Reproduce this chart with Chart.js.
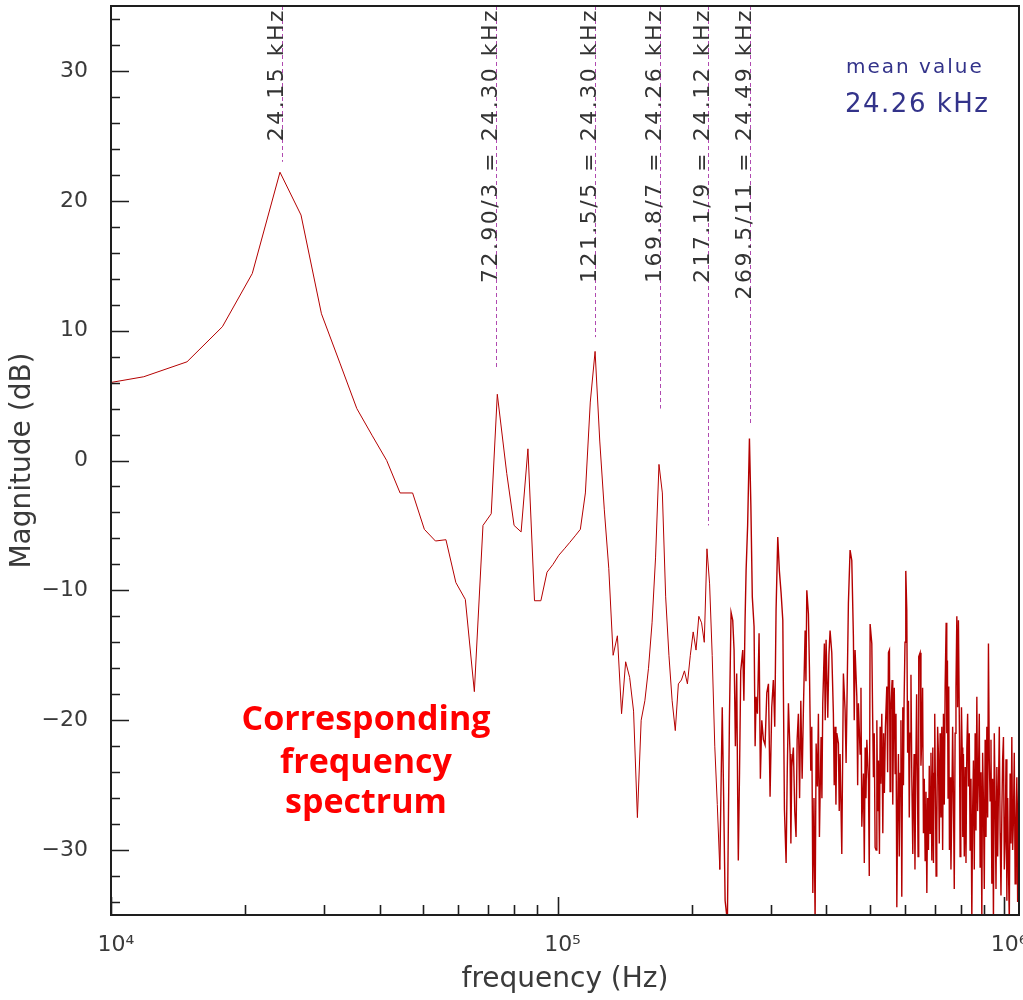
<!DOCTYPE html>
<html><head><meta charset="utf-8">
<script src="https://cdn.jsdelivr.net/npm/chart.js@4.4.1/dist/chart.umd.min.js"></script>
<style>html,body{margin:0;padding:0;background:#fff;} #wrap{width:1023px;height:1000px;position:relative;}</style>
</head><body><div id="wrap"><canvas id="c" width="1023" height="1000"></canvas></div>
<script>
// ---- data (frequency in kHz, magnitude in dB) ----
const freqKHz = [
 8.88, 11.84, 14.80, 17.76, 20.72, 23.90, 26.64, 29.60, 32.56, 35.52, 38.48, 41.44, 44.40, 47.36, 50.32,
 53.28, 56.24, 59.20, 62.16, 65.12, 68.08, 71.04, 73.30, 76.96, 79.92, 82.88, 85.84, 88.80, 91.76, 94.72,
 97.68, 100.64, 103.60, 106.56, 109.52, 112.48, 115.44, 118.40, 121.36, 124.32, 127.28, 130.24, 133.20, 136.16, 139.12,
 142.08, 145.04, 148.00, 150.96, 153.92, 156.88, 159.84, 162.80, 165.76, 168.72, 171.68, 174.64, 177.60, 180.56, 183.52,
 186.48, 189.44, 192.40, 195.36, 198.32, 201.28, 204.24, 207.20, 210.16, 213.12, 216.08, 219.04, 222.00, 224.96, 227.92,
 230.88, 233.8, 235.5, 237.3, 240.1, 242.6, 244.7, 246.8, 248.5, 250.2, 251.9, 253.2, 254.0, 255.6, 257.2,
 259.9, 261.4, 263.0, 264.4, 266.5, 269.0, 271.0, 273.0, 275.5, 277.0, 278.4, 280.3, 282.7, 284.6, 286.7,
 289.1, 291.6, 294.2, 296.7, 299.2, 301.8, 304.3, 306.5, 308.6, 311.3, 313.9, 316.7, 319.5, 322.2, 325.0,
 326.9, 328.9, 331.7, 333.1, 334.6, 337.4, 339.8, 342.1, 344.0, 346.2, 348.4, 350.6, 353.0, 355.3, 358.5,
 360.0, 361.6, 364.6, 366.5, 369.1, 371.0, 373.0, 375.2, 377.4, 379.4, 381.9, 383.9, 385.9, 389.2, 390.9,
 392.6, 395.9, 397.6, 399.4, 402.9, 405.3, 407.7, 411.3, 414.7, 416.5, 418.4, 420.2, 422.1, 425.6, 427.4,
 429.3, 433.1, 436.7, 440.5, 442.8, 445.5, 448.1, 452.0, 456.0, 459.8, 461.8, 463.8, 468.0, 470.0, 471.8,
 476.0, 478.1, 480.2, 484.2, 486.4, 488.5, 490.6, 492.8, 496.9, 499.0, 501.2, 505.6, 507.7, 509.8, 512.0,
 514.3, 516.9, 518.9, 521.0, 523.2, 525.9, 527.7, 529.6, 532.3, 535.1, 537.3, 539.5, 542.3, 546.2, 548.5,
 550.9, 553.7, 555.6, 557.6, 561.4, 563.3, 565.2, 567.7, 570.2, 572.7, 575.2, 577.6, 580.0, 582.5, 585.0,
 587.5, 590.1, 593.2, 595.2, 597.2, 600.0, 602.4, 605.5, 608.1, 610.7, 613.3, 616.0, 618.7, 621.4, 624.6,
 626.7, 628.8, 631.6, 634.4, 637.0, 639.7, 641.8, 644.0, 648.6, 651.4, 654.3, 657.0, 659.8, 662.7, 665.6,
 668.5, 671.5, 674.3, 677.1, 680.0, 682.9, 685.9, 688.9, 692.5, 694.8, 697.1, 699.4, 701.8, 704.3, 706.8,
 709.9, 712.9, 716.0, 719.1, 722.3, 725.4, 728.5, 731.5, 734.7, 737.9, 741.8, 744.2, 746.7, 749.2, 751.8,
 754.5, 757.1, 760.4, 763.8, 767.0, 770.1, 773.5, 776.9, 780.3, 783.8, 787.0, 790.3, 794.4, 797.2, 800.1,
 802.8, 805.5, 808.2, 810.9, 814.5, 818.1, 821.7, 825.3, 828.7, 832.2, 835.8, 839.4, 843.1, 846.8, 850.3,
 853.8, 857.6, 861.4, 865.2, 869.0, 872.6, 876.2, 880.0, 883.8, 887.7, 891.6, 895.3, 899.0, 903.0, 907.0,
 911.0, 915.0, 918.8, 922.6, 926.6, 930.6, 934.7, 938.8, 942.7, 946.6, 950.8, 955.0, 959.2, 963.5, 967.5,
 971.5, 975.7, 979.9, 984.2, 988.5, 992.6, 996.8, 1001.2, 1005.6, 1010.0, 1014.5, 1018.7, 1022.9, 1027.3, 1031.7,
 1036.2, 1040.8, 1045.1, 1049.4, 1054.0, 1058.7, 1063.4, 1068.1, 1072.5, 1077.0, 1081.6, 1086.3
];
const magnitudeDB = [
 5.7, 6.45, 7.6, 10.3, 14.4, 22.2, 18.9, 11.3, 7.5, 4.0, 1.9, 0.0, -2.5, -2.5, -5.3,
 -6.2, -6.1, -9.4, -10.7, -17.8, -5.0, -4.1, 5.1, -1.0, -5.0, -5.5, 0.9, -10.8, -10.8, -8.6,
 -8.0, -7.3, -6.8, -6.3, -5.8, -5.3, -2.5, 4.5, 8.4, 1.5, -3.8, -8.3, -15.0, -13.5, -19.5,
 -15.5, -16.7, -19.3, -27.5, -20.0, -18.5, -16.0, -12.5, -7.5, -0.3, -2.5, -10.5, -15.0, -18.5, -20.8,
 -17.2, -16.9, -16.2, -17.2, -15.0, -13.2, -14.6, -12.0, -12.5, -14.0, -6.8, -9.5, -15.0, -22.0, -26.5,
 -31.5, -19.0, -26.0, -33.9, -35.5, -20.0, -11.7, -12.3, -14.6, -22.0, -16.4, -25.9, -30.8, -24.0, -16.2,
 -14.6, -18.5, -12.3, -8.5, -5.0, 1.7, -3.5, -10.5, -12.8, -22.0, -18.2, -19.5, -13.3, -24.5, -20.0,
 -21.5, -21.9, -17.9, -17.2, -25.9, -19.0, -16.9, -20.5, -11.5, -5.9, -8.5, -10.2, -12.3, -26.9, -31.0,
 -24.0, -18.7, -22.6, -29.5, -23.6, -22.1, -27.0, -29.0, -21.5, -19.5, -26.0, -18.5, -24.5, -19.2, -13.1,
 -17.0, -10.0, -11.8, -15.9, -23.9, -20.5, -33.3, -26.0, -35.5, -21.8, -25.1, -19.5, -29.0, -21.3, -26.0,
 -18.7, -14.1, -20.0, -13.8, -19.8, -15.0, -13.1, -14.8, -19.5, -25.0, -20.5, -26.5, -21.0, -21.8, -27.0,
 -22.6, -30.3, -16.4, -19.2, -23.3, -17.0, -11.0, -6.9, -7.7, -13.6, -20.0, -14.6, -18.2, -25.0, -18.7,
 -22.6, -17.5, -28.2, -24.1, -31.0, -22.1, -26.0, -21.5, -24.6, -32.0, -12.6, -14.1, -19.5, -24.4, -21.0,
 -29.8, -30.0, -20.0, -27.0, -23.1, -30.3, -20.5, -24.9, -19.5, -28.7, -21.0, -25.6, -20.5, -17.4, -24.0,
 -14.8, -14.6, -25.5, -19.2, -16.9, -26.5, -21.0, -17.5, -24.1, -19.5, -34.4, -27.0, -22.6, -30.5, -24.1,
 -20.0, -33.6, -19.0, -25.0, -18.5, -14.0, -8.5, -11.5, -22.5, -18.5, -27.5, -21.0, -16.5, -24.4, -30.3,
 -25.5, -22.6, -31.5, -23.6, -18.0, -24.6, -30.5, -15.1, -14.8, -23.5, -21.3, -17.5, -28.7, -24.5, -30.8,
 -25.5, -33.3, -26.0, -30.0, -23.5, -28.7, -22.5, -30.8, -22.1, -31.0, -24.1, -19.5, -25.1, -32.0, -28.7,
 -20.5, -22.6, -29.5, -21.0, -27.5, -20.5, -30.0, -19.5, -26.5, -17.4, -12.5, -21.0, -15.4, -26.0, -17.4,
 -30.0, -24.4, -31.5, -26.7, -20.5, -25.6, -33.0, -21.0, -17.5, -12.0, -19.0, -12.3, -21.0, -30.5, -24.1,
 -19.0, -22.1, -29.0, -22.6, -30.5, -23.6, -31.0, -22.1, -19.5, -25.1, -21.0, -30.0, -24.5, -35.5, -27.0,
 -23.1, -31.5, -21.0, -28.5, -18.2, -27.0, -24.4, -19.5, -31.3, -24.0, -35.5, -22.5, -26.2, -33.0, -21.5,
 -29.0, -20.5, -27.5, -14.1, -23.0, -26.2, -21.5, -32.6, -24.5, -35.5, -21.0, -26.2, -33.0, -23.6, -30.5,
 -25.4, -20.5, -28.7, -33.5, -27.2, -23.0, -21.3, -31.5, -29.2, -23.0, -33.9, -26.0, -31.3, -35.5, -24.1,
 -29.5, -21.3, -30.0, -27.7, -22.5, -32.6, -28.0, -24.4, -34.0, -26.2, -22.5, -30.0
];
const xMajorTicksHz = [1e4, 1e5, 1e6];
const xTickLabels = ['10\u2074', '10\u2075', '10\u2076'];
const yTicks = [30, 20, 10, 0, -10, -20, -30];
const peakFreqKHz = [24.15, 72.90, 121.5, 169.8, 217.1, 269.5];
const peakLabels = ['24.15 kHz', '72.90/3 = 24.30 kHz', '121.5/5 = 24.30 kHz', '169.8/7 = 24.26 kHz', '217.1/9 = 24.12 kHz', '269.5/11 = 24.49 kHz'];
const peakLineEndDB = [23, 7, 9.5, 4, -5, 2.8];
const meanTitle = 'mean value';
const meanText = '24.26 kHz';
const noteLines = ['Corresponding', 'frequency', 'spectrum'];

const FONT = '"DejaVu Sans", "Liberation Sans", sans-serif';

const decor = {
  id: 'decor',
  afterDatasetsDraw(chart) {
    const {ctx, chartArea: a, scales: {x, y}} = chart;
    ctx.save();
    ctx.strokeStyle = '#b04ab0';
    ctx.lineWidth = 1;
    ctx.setLineDash([4, 3]);
    peakFreqKHz.forEach((f, i) => {
      const px = Math.round(x.getPixelForValue(f * 1000)) + 0.5;
      ctx.beginPath();
      ctx.moveTo(px, a.top);
      ctx.lineTo(px, y.getPixelForValue(peakLineEndDB[i]));
      ctx.stroke();
    });
    ctx.setLineDash([]);
    ctx.fillStyle = '#333333';
    ctx.font = '22px ' + FONT;
    ctx.letterSpacing = '2.5px';
    ctx.textAlign = 'right';
    ctx.textBaseline = 'alphabetic';
    peakFreqKHz.forEach((f, i) => {
      const px = x.getPixelForValue(f * 1000);
      ctx.save();
      ctx.translate(px + 1, a.top + 2);
      ctx.rotate(-Math.PI / 2);
      ctx.fillText(peakLabels[i], 0, 0);
      ctx.restore();
    });
    ctx.restore();
  },
  afterDraw(chart) {
    const {ctx, chartArea: a, scales: {x, y}} = chart;
    ctx.save();
    ctx.strokeStyle = '#1e1e1e';
    ctx.lineWidth = 2;
    ctx.strokeRect(a.left, a.top, a.right - a.left, a.bottom - a.top);
    ctx.lineWidth = 1.6;
    ctx.beginPath();
    for (let v = y.min + 1; v < y.max; v += 2) {
      const py = Math.round(y.getPixelForValue(v)) + 0.5;
      const len = (v % 10 === 0) ? 18 : 9;
      ctx.moveTo(a.left, py); ctx.lineTo(a.left + len, py);
    }
    xMajorTicksHz.forEach(d => {
      for (let m = 1; m <= 9; m++) {
        const v = m * d;
        if (v < x.min || v > x.max) continue;
        const px = Math.round(x.getPixelForValue(v)) + 0.5;
        const len = m === 1 ? 18 : 10;
        ctx.moveTo(px, a.bottom); ctx.lineTo(px, a.bottom - len);
      }
    });
    ctx.stroke();
    ctx.fillStyle = '#33338a';
    ctx.textAlign = 'left';
    ctx.textBaseline = 'alphabetic';
    ctx.font = '20px ' + FONT;
    ctx.letterSpacing = '2px';
    ctx.fillText(meanTitle, 846, 73);
    ctx.font = '26px ' + FONT;
    ctx.letterSpacing = '1.5px';
    ctx.fillText(meanText, 845, 112);
    ctx.letterSpacing = '0px';
    ctx.fillStyle = '#ff0000';
    ctx.textAlign = 'center';
    ctx.font = 'bold 34px "Open Sans", "DejaVu Sans", sans-serif';
    const base = [730, 773, 813];
    noteLines.forEach((t, i) => ctx.fillText(t, 366, base[i]));
    ctx.restore();
  }
};

new Chart(document.getElementById('c'), {
  type: 'scatter',
  data: {
    datasets: [{
      data: freqKHz.map((f, i) => ({x: f * 1000, y: magnitudeDB[i]})),
      showLine: true,
      borderColor: '#b40000',
      borderWidth: 1,
      segment: {borderWidth: c => (c.p0.parsed.x > 2.3e5 ? 1.4 : 1)},
      pointRadius: 0,
      tension: 0,
      fill: false
    }]
  },
  options: {
    responsive: false,
    animation: false,
    devicePixelRatio: 1,
    layout: {padding: {top: 6, right: 4, left: 0, bottom: 0}},
    plugins: {legend: {display: false}, tooltip: {enabled: false}},
    scales: {
      x: {
        type: 'logarithmic', min: 1e4, max: 1.08e6,
        grid: {display: false, drawTicks: false},
        border: {display: false},
        afterBuildTicks(s) { s.ticks = xMajorTicksHz.map(v => ({value: v})); },
        afterFit(s) { s.height = 85; s.paddingLeft = 0; s.paddingRight = 0; },
        ticks: {
          autoSkip: false, maxRotation: 0, minRotation: 0, padding: 17, labelOffset: 5,
          font: {family: FONT, size: 22}, color: '#3a3a3a',
          callback(v, i) { return xTickLabels[i]; }
        },
        title: {display: true, text: 'frequency (Hz)', font: {family: FONT, size: 28}, color: '#3a3a3a', padding: {top: 0, bottom: 3}}
      },
      y: {
        min: -35, max: 35,
        grid: {display: false, drawTicks: false},
        border: {display: false},
        afterBuildTicks(s) { s.ticks = yTicks.map(v => ({value: v})); },
        afterFit(s) { s.width = 111; s.paddingTop = 0; s.paddingBottom = 0; },
        ticks: {
          padding: 23, font: {family: FONT, size: 22}, color: '#3a3a3a',
          callback(v) { return String(v).replace('-', '\u2212'); }
        },
        title: {display: true, text: 'Magnitude (dB)', font: {family: FONT, size: 28}, color: '#3a3a3a', padding: {top: 6, bottom: 0}}
      }
    }
  },
  plugins: [decor]
});
</script>
</body></html>
